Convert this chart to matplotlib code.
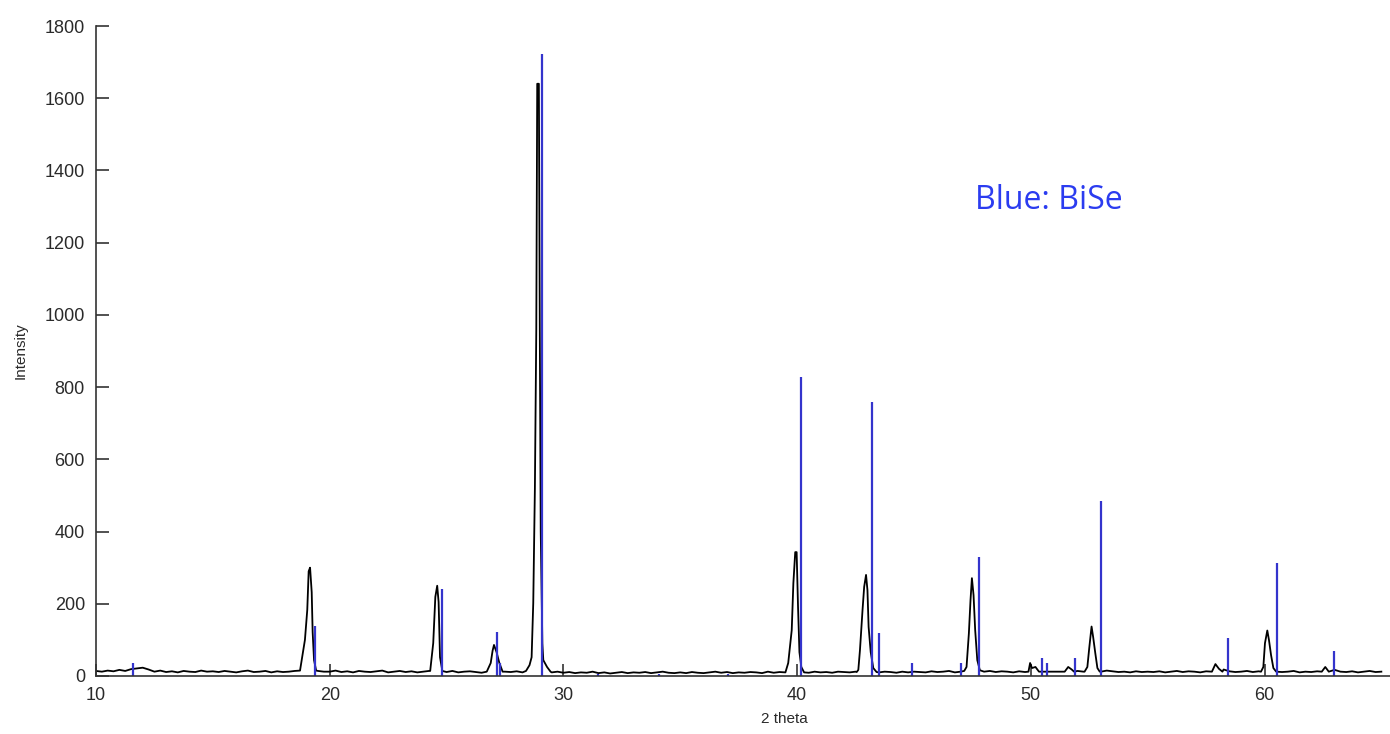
import numpy as np
import matplotlib.pyplot as plt

plt.rcParams['font.family'] = 'Liberation Sans'

# ---------------------------------------------------------------------------
# data
# ---------------------------------------------------------------------------

# reference stick pattern (BiSe): 2 theta, intensity
stick_pos = [11.58, 19.35, 24.8, 27.16, 27.3, 29.07, 31.5, 34.1, 37.05,
             40.17, 43.2, 43.5, 44.9, 47.0, 47.8, 50.5, 50.7, 51.9, 53.0,
             58.43, 60.55, 62.96]
stick_int = [36, 139, 241, 121, 35, 1722, 6, 5, 6,
             828, 759, 119, 35, 35, 330, 50, 35, 50, 485,
             105, 312, 69]

# measured baseline, every 0.25 deg from 10 to 65 (one row = 5 deg)
base_int = [14, 12, 15, 13, 17, 14, 19, 21, 23, 18, 12, 15, 11, 13, 10, 14, 12, 11, 15, 12,
            13, 11, 14, 12, 10, 13, 15, 11, 12, 14, 10, 13, 11, 12, 14, 10, 13, 12, 14, 12,
            12, 15, 11, 13, 10, 14, 12, 11, 13, 15, 10, 12, 14, 11, 13, 10, 12, 14, 11, 13,
            11, 14, 10, 12, 13, 11, 9, 12, 14, 10, 12, 11, 13, 10, 12, 14, 11, 13, 10, 12,
            9, 11, 8, 10, 9, 12, 8, 10, 7, 9, 11, 8, 10, 9, 11, 8, 10, 12, 9, 8,
            10, 8, 11, 9, 8, 10, 12, 9, 11, 8, 10, 9, 11, 10, 8, 12, 9, 11, 10, 9,
            11, 10, 9, 12, 10, 11, 9, 12, 11, 10, 12, 9, 11, 13, 10, 12, 11, 9, 12, 10,
            12, 11, 10, 13, 11, 12, 14, 10, 12, 11, 13, 10, 12, 14, 11, 13, 12, 10, 13, 11,
            12, 14, 11, 13, 12, 10, 13, 11, 14, 12, 11, 13, 12, 15, 13, 11, 12, 10, 13, 11,
            12, 11, 13, 10, 12, 14, 11, 13, 12, 10, 13, 15, 14, 18, 13, 11, 12, 14, 11, 13,
            12, 10, 13, 11, 12, 14, 10, 12, 11, 13, 12, 15, 17, 12, 11, 13, 10, 12, 14, 11,
            12]

# peak profiles of the measured trace: (2 theta, intensity)
peak_19 = [(18.73, 15), (18.94, 100), (19.04, 183), (19.1, 290), (19.16, 300),
           (19.23, 232), (19.27, 122), (19.33, 44), (19.42, 15)]
peak_24 = [(24.3, 14), (24.43, 91), (24.52, 219), (24.6, 250), (24.66, 205),
           (24.72, 52), (24.82, 14)]
peak_27 = [(26.72, 12), (26.89, 36), (26.97, 70), (27.03, 86), (27.14, 66),
           (27.26, 36), (27.4, 12)]
peak_29 = [(28.4, 14), (28.55, 30), (28.64, 52), (28.71, 202), (28.78, 520),
           (28.84, 960), (28.88, 1640), (28.95, 1640), (28.99, 960),
           (29.03, 400), (29.1, 90), (29.14, 44), (29.3, 25), (29.45, 12)]
peak_40 = [(39.5, 10), (39.62, 36), (39.77, 127), (39.84, 257), (39.92, 343),
           (39.98, 343), (40.04, 191), (40.1, 66), (40.18, 25), (40.3, 10)]
peak_43 = [(42.55, 11), (42.62, 17), (42.69, 72), (42.8, 183), (42.87, 247),
           (42.95, 280), (43.01, 238), (43.06, 136), (43.15, 66),
           (43.26, 22), (43.4, 11)]
peak_47 = [(47.15, 14), (47.25, 25), (47.35, 118), (47.42, 210), (47.48, 271),
           (47.55, 224), (47.62, 127), (47.71, 44), (47.82, 16)]
bumps_50 = [(49.9, 12), (49.97, 36), (50.05, 22), (50.2, 25), (50.35, 12),
            (51.45, 12), (51.6, 25), (51.75, 18), (51.85, 12)]
peak_52 = [(52.3, 12), (52.42, 25), (52.5, 77), (52.6, 137), (52.67, 107),
           (52.76, 63), (52.85, 22), (52.95, 12)]
bump_58 = [(57.75, 12), (57.9, 33), (58.05, 20), (58.2, 12)]
peak_60 = [(59.85, 12), (59.95, 25), (60.02, 91), (60.12, 126), (60.19, 100),
           (60.28, 58), (60.38, 22), (60.5, 12)]
bump_62 = [(62.45, 12), (62.6, 25), (62.75, 12)]

peaks = [peak_19, peak_24, peak_27, peak_29, peak_40, peak_43, peak_47,
         bumps_50, peak_52, bump_58, peak_60, bump_62]

# ---------------------------------------------------------------------------
# build the measured trace
# ---------------------------------------------------------------------------

base_x = np.linspace(10, 65, len(base_int))
base_y = np.array(base_int, dtype=float)

keep = np.ones(len(base_x), dtype=bool)
for pk in peaks:
    lo, hi = pk[0][0], pk[-1][0]
    keep &= ~((base_x >= lo) & (base_x <= hi))

xs = list(base_x[keep])
ys = list(base_y[keep])
for pk in peaks:
    for px, py in pk:
        xs.append(px)
        ys.append(py)

order = np.argsort(xs)
trace_x = np.array(xs)[order]
trace_y = np.array(ys)[order]

# ---------------------------------------------------------------------------
# plot
# ---------------------------------------------------------------------------

fig = plt.figure(figsize=(13.9, 7.34), dpi=100)
ax = fig.add_axes([96 / 1390, 1 - 676 / 734, 1 - 96 / 1390, 650 / 734])

ax.plot(trace_x, trace_y, color='black', lw=1.3)
ax.vlines(stick_pos, 0, stick_int, color='#3434cc', lw=1.6)

ax.set_xlim(10, 65.37)
ax.set_ylim(0, 1800)
ax.set_xticks([10, 20, 30, 40, 50, 60])
ax.set_yticks(np.arange(0, 1801, 200))

for side in ['top', 'right']:
    ax.spines[side].set_visible(False)
for side in ['left', 'bottom']:
    ax.spines[side].set_color('#333333')
    ax.spines[side].set_linewidth(1.2)

ax.tick_params(direction='in', length=9, width=1.2, colors='#333333',
               labelsize=13, labelcolor='#2a2a2a', pad=8)

ax.set_xlabel('2 theta', fontsize=11, color='#2a2a2a')
ax.set_ylabel('Intensity', fontsize=11, color='#2a2a2a', labelpad=12)
ax.xaxis.set_label_coords(0.532, -0.056)

ax.text(47.6, 1318, 'Blue: BiSe', color='#2b3cf0', fontsize=23,
        family='Open Sans', va='center', ha='left')

fig.savefig('out.png', dpi=100)
